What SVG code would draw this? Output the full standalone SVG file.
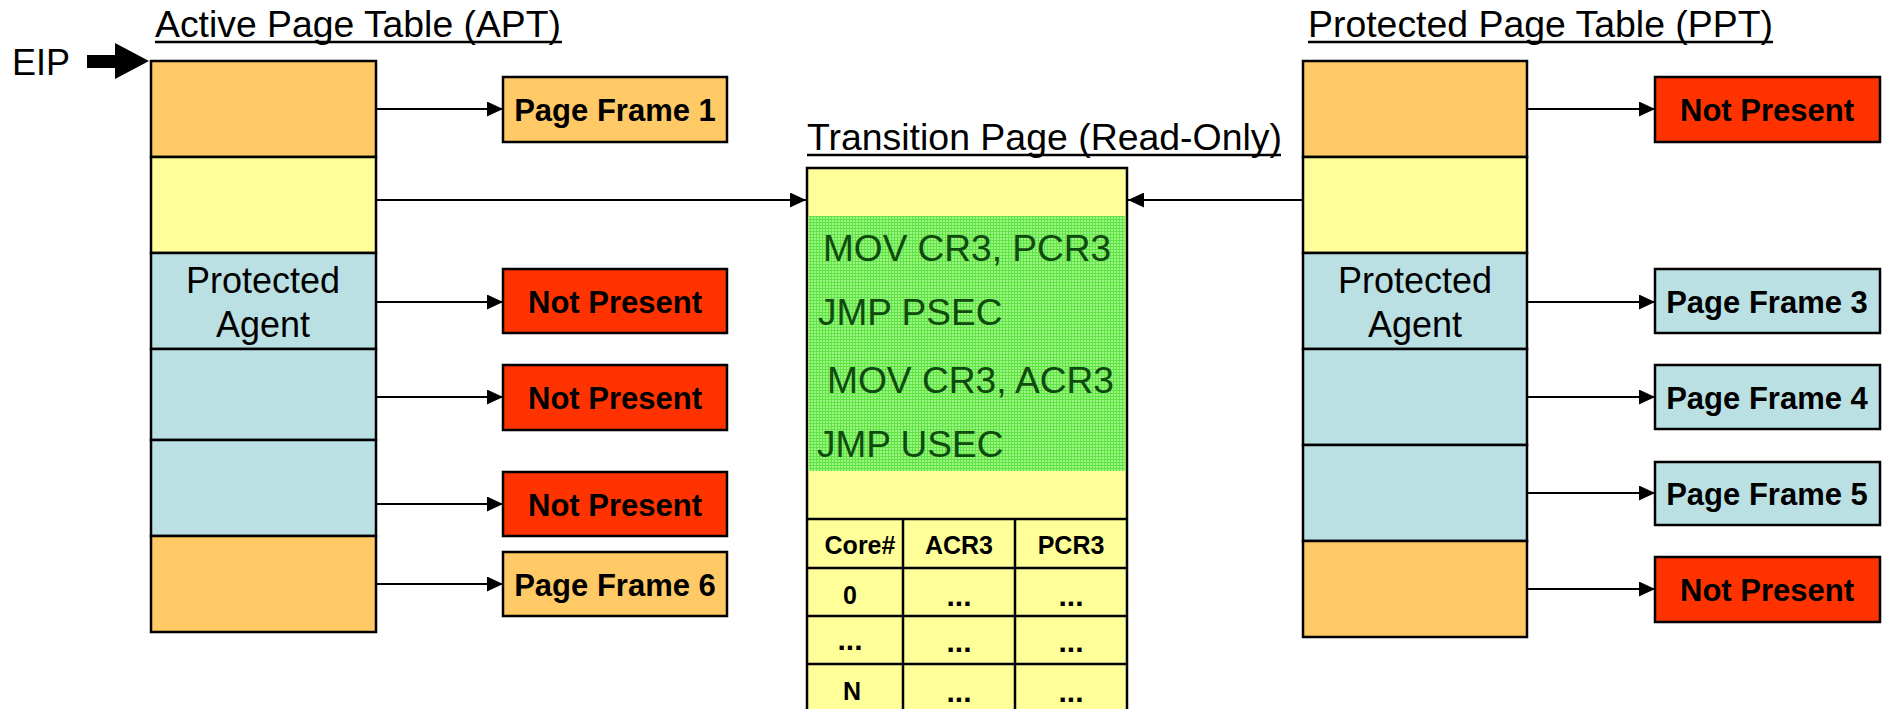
<svg xmlns="http://www.w3.org/2000/svg" width="1885" height="709" viewBox="0 0 1885 709">
<style>
.row{stroke:#000;stroke-width:2.5}
.or{fill:#FFC966}
.ye{fill:#FFFF99}
.bl{fill:#BBE0E3}
.rd{fill:#FF3300}
.box{stroke:#000;stroke-width:2.5}
.title{font-family:"Liberation Sans",Arial,sans-serif;font-size:37px;fill:#000}
.ul{stroke:#000;stroke-width:2.5}
.agent{font-family:"Liberation Sans",Arial,sans-serif;font-size:36px;fill:#000;text-anchor:middle}
.bt{font-family:"Liberation Sans",Arial,sans-serif;font-size:31px;font-weight:bold;fill:#000;text-anchor:middle}
.code{font-family:"Liberation Sans",Arial,sans-serif;font-size:37px;fill:#0f4a0f}
.th{font-family:"Liberation Sans",Arial,sans-serif;font-size:25px;font-weight:bold;fill:#000;text-anchor:middle}
.dots{font-family:"Liberation Sans",Arial,sans-serif;font-size:30px;font-weight:bold;fill:#000;text-anchor:middle}
.conn{stroke:#000;stroke-width:2;fill:none}
</style>
<defs>
<marker id="ah" markerWidth="16" markerHeight="15" refX="16" refY="7.5" orient="auto" markerUnits="userSpaceOnUse">
<path d="M0,0 L16,7.5 L0,15 z" fill="#000"/>
</marker>
<pattern id="grn" width="3" height="3" patternUnits="userSpaceOnUse">
<rect width="3" height="3" fill="#9cf584"/>
<rect width="3" height="1" fill="#5fe444"/>
<rect width="1" height="3" fill="#5fe444"/>
</pattern>
</defs>
<rect width="1885" height="709" fill="#fff"/>

<g id="eip">
<text x="12" y="75" font-family="Liberation Sans, Arial, sans-serif" font-size="36" fill="#000">EIP</text>
<polygon points="87,55 115,55 115,43 149,61 115,79 115,68 87,68" fill="#000"/>
</g>

<g id="apt">
<text class="title" x="155" y="37" textLength="406" lengthAdjust="spacingAndGlyphs">Active Page Table (APT)</text>
<line class="ul" x1="155" y1="42" x2="562" y2="42"/>
<rect class="row or" x="151" y="61" width="225" height="96"/>
<rect class="row ye" x="151" y="157" width="225" height="96"/>
<rect class="row bl" x="151" y="253" width="225" height="96"/>
<rect class="row bl" x="151" y="349" width="225" height="91"/>
<rect class="row bl" x="151" y="440" width="225" height="96"/>
<rect class="row or" x="151" y="536" width="225" height="96"/>
<text class="agent" x="263" y="293">Protected</text>
<text class="agent" x="263" y="337">Agent</text>
</g>

<g id="apt-pf1"><rect class="box or" x="503" y="77" width="224" height="65"/><text class="bt" x="615" y="121">Page Frame 1</text></g>
<g id="apt-np1"><rect class="box rd" x="503" y="269" width="224" height="64"/><text class="bt" x="615" y="313">Not Present</text></g>
<g id="apt-np2"><rect class="box rd" x="503" y="365" width="224" height="65"/><text class="bt" x="615" y="409">Not Present</text></g>
<g id="apt-np3"><rect class="box rd" x="503" y="472" width="224" height="64"/><text class="bt" x="615" y="516">Not Present</text></g>
<g id="apt-pf6"><rect class="box or" x="503" y="552" width="224" height="64"/><text class="bt" x="615" y="596">Page Frame 6</text></g>

<g id="transition">
<text class="title" x="807" y="150" textLength="475" lengthAdjust="spacingAndGlyphs">Transition Page (Read-Only)</text>
<line class="ul" x1="807" y1="155" x2="1281" y2="155"/>
<rect class="ye" x="807" y="168" width="320" height="546" stroke="#000" stroke-width="2.5"/>
<rect x="808.5" y="216" width="317" height="255" fill="url(#grn)"/>
<text class="code" x="823" y="261" textLength="288" lengthAdjust="spacingAndGlyphs">MOV CR3, PCR3</text>
<text class="code" x="818" y="325">JMP PSEC</text>
<text class="code" x="827" y="393" textLength="287" lengthAdjust="spacingAndGlyphs">MOV CR3, ACR3</text>
<text class="code" x="817" y="457">JMP USEC</text>
<g stroke="#000" stroke-width="2.5">
<line x1="807" y1="519" x2="1127" y2="519"/>
<line x1="807" y1="568" x2="1127" y2="568"/>
<line x1="807" y1="616" x2="1127" y2="616"/>
<line x1="807" y1="664" x2="1127" y2="664"/>
<line x1="903" y1="519" x2="903" y2="714"/>
<line x1="1015" y1="519" x2="1015" y2="714"/>
</g>
<text class="th" x="860" y="554">Core#</text>
<text class="th" x="959" y="554">ACR3</text>
<text class="th" x="1071" y="554">PCR3</text>
<text class="th" x="850" y="604">0</text>
<text class="dots" x="959" y="606">...</text>
<text class="dots" x="1071" y="606">...</text>
<text class="dots" x="850" y="650">...</text>
<text class="dots" x="959" y="652">...</text>
<text class="dots" x="1071" y="652">...</text>
<text class="th" x="852" y="700">N</text>
<text class="dots" x="959" y="702">...</text>
<text class="dots" x="1071" y="702">...</text>
</g>

<g id="ppt">
<text class="title" x="1308" y="37" textLength="465" lengthAdjust="spacingAndGlyphs">Protected Page Table (PPT)</text>
<line class="ul" x1="1308" y1="42" x2="1773" y2="42"/>
<rect class="row or" x="1303" y="61" width="224" height="96"/>
<rect class="row ye" x="1303" y="157" width="224" height="96"/>
<rect class="row bl" x="1303" y="253" width="224" height="96"/>
<rect class="row bl" x="1303" y="349" width="224" height="96"/>
<rect class="row bl" x="1303" y="445" width="224" height="96"/>
<rect class="row or" x="1303" y="541" width="224" height="96"/>
<text class="agent" x="1415" y="293">Protected</text>
<text class="agent" x="1415" y="337">Agent</text>
</g>

<g id="ppt-np1"><rect class="box rd" x="1655" y="77" width="225" height="65"/><text class="bt" x="1767" y="121">Not Present</text></g>
<g id="ppt-pf3"><rect class="box bl" x="1655" y="269" width="225" height="64"/><text class="bt" x="1767" y="313">Page Frame 3</text></g>
<g id="ppt-pf4"><rect class="box bl" x="1655" y="365" width="225" height="64"/><text class="bt" x="1767" y="409">Page Frame 4</text></g>
<g id="ppt-pf5"><rect class="box bl" x="1655" y="462" width="225" height="63"/><text class="bt" x="1767" y="505">Page Frame 5</text></g>
<g id="ppt-np2"><rect class="box rd" x="1655" y="557" width="225" height="65"/><text class="bt" x="1767" y="601">Not Present</text></g>

<g id="connectors">
<line class="conn" x1="376" y1="109" x2="503" y2="109" marker-end="url(#ah)"/>
<line class="conn" x1="376" y1="200" x2="806" y2="200" marker-end="url(#ah)"/>
<line class="conn" x1="376" y1="302" x2="503" y2="302" marker-end="url(#ah)"/>
<line class="conn" x1="376" y1="397" x2="503" y2="397" marker-end="url(#ah)"/>
<line class="conn" x1="376" y1="504" x2="503" y2="504" marker-end="url(#ah)"/>
<line class="conn" x1="376" y1="584" x2="503" y2="584" marker-end="url(#ah)"/>
<line class="conn" x1="1302" y1="200" x2="1128" y2="200" marker-end="url(#ah)"/>
<line class="conn" x1="1527" y1="109" x2="1655" y2="109" marker-end="url(#ah)"/>
<line class="conn" x1="1527" y1="302" x2="1655" y2="302" marker-end="url(#ah)"/>
<line class="conn" x1="1527" y1="397" x2="1655" y2="397" marker-end="url(#ah)"/>
<line class="conn" x1="1527" y1="493" x2="1655" y2="493" marker-end="url(#ah)"/>
<line class="conn" x1="1527" y1="589" x2="1655" y2="589" marker-end="url(#ah)"/>
</g>
</svg>
